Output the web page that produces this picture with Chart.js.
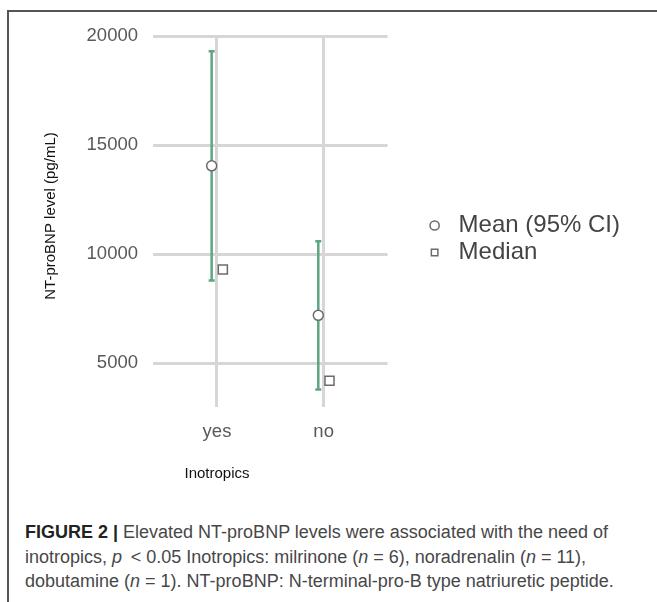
<!DOCTYPE html>
<html>
<head>
<meta charset="utf-8">
<script src="https://cdn.jsdelivr.net/npm/chart.js@4.4.1/dist/chart.umd.min.js"></script>
<style>
  html, body { margin: 0; padding: 0; background: #fff; width: 657px; height: 602px; overflow: hidden; }
  #frame { position: absolute; left: 7px; top: 10px; right: 0; bottom: 0; border-top: 2px solid #555; border-left: 2px solid #555; }
  #chart { position: absolute; left: 0; top: 0; }
  #caption {
    position: absolute; left: 25px; top: 520px;
    font-family: "Liberation Sans", Arial, sans-serif; font-size: 18px; line-height: 24.5px;
    color: #474747; white-space: nowrap;
  }
  #caption b { color: #222; }
</style>
</head>
<body>
<div id="frame"></div>
<canvas id="chart" width="657" height="500"></canvas>
<div id="caption"><b>FIGURE 2 |</b> Elevated NT-proBNP levels were associated with the need of<br>inotropics, <i>p</i>&thinsp; &lt; 0.05 Inotropics: milrinone (<i>n</i> = 6), noradrenalin (<i>n</i> = 11),<br>dobutamine (<i>n</i> = 1). NT-proBNP: N-terminal-pro-B type natriuretic peptide.</div>
<script>
// Données
const categories = ['yes', 'no'];
const meanValues = [14050, 7200];
const ciLower = [8800, 3800];
const ciUpper = [19300, 10600];
const medianValues = [9300, 4200];
const yTicks = [5000, 10000, 15000, 20000];

// Décalages horizontaux (en unités de catégorie)
const MEAN_SHIFT = -0.05;
const MEDIAN_SHIFT = 0.055;
const CI_COLOR = '#5ea681';
const FONT = '"Liberation Sans", Arial, sans-serif';

// Barres d'erreur (IC 95%)
const errorBars = {
    id: 'errorBars',
    beforeDatasetsDraw(chart) {
        const {ctx, scales: {x, y}} = chart;
        ctx.save();
        ctx.strokeStyle = CI_COLOR;
        ctx.lineWidth = 2.5;
        categories.forEach((c, i) => {
            const px = x.getPixelForValue(i + MEAN_SHIFT);
            const top = y.getPixelForValue(ciUpper[i]);
            const bottom = y.getPixelForValue(ciLower[i]);
            ctx.beginPath();
            ctx.moveTo(px, top);
            ctx.lineTo(px, bottom);
            ctx.moveTo(px - 3, top);
            ctx.lineTo(px + 3, top);
            ctx.moveTo(px - 3, bottom);
            ctx.lineTo(px + 3, bottom);
            ctx.stroke();
        });
        ctx.restore();
    }
};

// Titres des axes
const axisTitles = {
    id: 'axisTitles',
    afterDraw(chart) {
        const {ctx, scales: {x}} = chart;
        ctx.save();
        ctx.font = '15px ' + FONT;
        ctx.fillStyle = '#111';
        ctx.textAlign = 'center';
        ctx.textBaseline = 'middle';
        // sous la première catégorie
        ctx.fillText('Inotropics', x.getPixelForValue(0), 474);
        ctx.translate(51, 216);
        ctx.rotate(-Math.PI / 2);
        ctx.fillText('NT-proBNP level (pg/mL)', 0, 0);
        ctx.restore();
    }
};

new Chart(document.getElementById('chart'), {
    type: 'scatter',
    data: {
        datasets: [{
            label: 'Mean (95% CI)',
            data: meanValues.map((v, i) => ({x: i + MEAN_SHIFT, y: v})),
            pointStyle: 'circle',
            pointRadius: 5,
            borderWidth: 1.5,
            borderColor: '#6b6b6b',
            backgroundColor: '#fff'
        }, {
            label: 'Median',
            data: medianValues.map((v, i) => ({x: i + MEDIAN_SHIFT, y: v})),
            pointStyle: 'rect',
            pointRadius: 6.4,
            borderWidth: 1.5,
            borderColor: '#6b6b6b',
            backgroundColor: '#fff'
        }]
    },
    options: {
        responsive: false,
        animation: false,
        layout: {
            padding: {top: 36, right: 27, bottom: 58, left: 0}
        },
        plugins: {
            legend: {
                position: 'right',
                maxWidth: 260,
                labels: {
                    usePointStyle: true,
                    boxHeight: 6.5,
                    padding: 3,
                    color: '#444',
                    font: {family: FONT, size: 24}
                }
            },
            tooltip: {enabled: false}
        },
        scales: {
            x: {
                type: 'linear',
                min: -0.6,
                max: 1.6,
                afterBuildTicks: s => { s.ticks = categories.map((c, i) => ({value: i})); },
                afterFit: s => { s.height = 35; },
                grid: {color: '#d6d6d6', lineWidth: 3, drawTicks: false},
                border: {display: false},
                ticks: {
                    padding: 13.5,
                    color: '#595959',
                    font: {family: FONT, size: 18.5},
                    callback: v => categories[v]
                }
            },
            y: {
                min: 3000,
                max: 20000,
                afterBuildTicks: s => { s.ticks = yTicks.map(v => ({value: v})); },
                afterFit: s => { s.width = 153; },
                grid: {color: '#d6d6d6', lineWidth: 3, drawTicks: false},
                border: {display: false},
                ticks: {
                    padding: 15,
                    color: '#595959',
                    font: {family: FONT, size: 18.5},
                    callback: v => String(v)
                }
            },
            // espace vide entre le graphique et la légende
            spacer: {
                type: 'linear',
                position: 'right',
                afterFit: s => { s.width = 32; },
                ticks: {display: false},
                grid: {display: false},
                border: {display: false}
            }
        }
    },
    plugins: [errorBars, axisTitles]
});
</script>
</body>
</html>
